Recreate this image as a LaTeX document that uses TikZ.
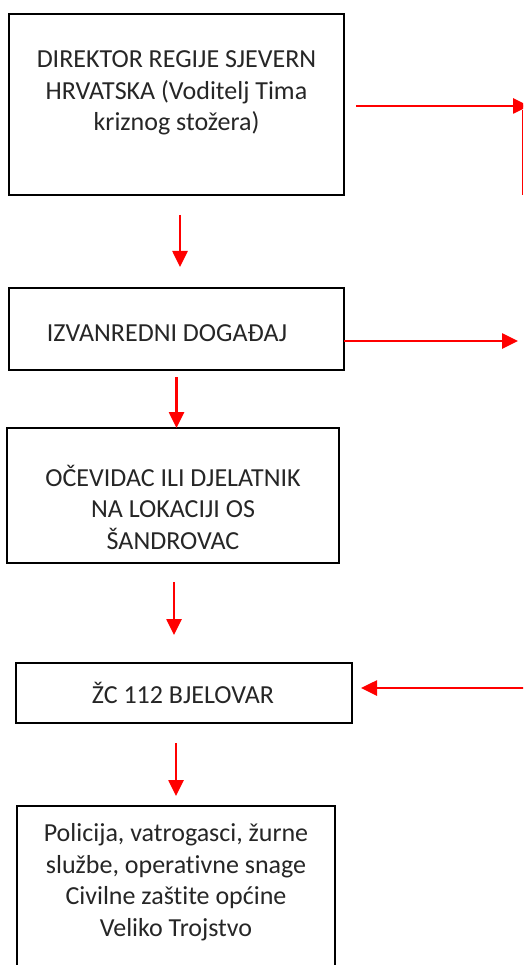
\documentclass[tikz,border=0pt]{standalone}
\usepackage{fontspec}
\setmainfont{Carlito}[Ligatures=NoCommon]
\usetikzlibrary{arrows.meta}
\begin{document}
\begin{tikzpicture}[x=1pt,y=-1pt,
  box/.style={draw=black, line width=1.6pt, outer sep=0pt, inner sep=0pt, fill=none},
  txt/.style={align=center, text=black!85, inner sep=0pt, font={\fontsize{26}{31.5}\selectfont}},
  arr/.style={draw=red, line width=2.6pt, -{Triangle[width=15pt,length=16pt]}},
  thin/.style={draw=red, line width=1pt}]
\useasboundingbox (0,0) rectangle (523,965);
\clip (0,0) rectangle (523,965);
\fill[white] (0,0) rectangle (523,965);
% boxes
\node[box, minimum width=335pt, minimum height=181pt] (b1) at (176.5,104.5) {};
\node[box, minimum width=335pt, minimum height=82pt] (b2) at (176.5,329) {};
\node[box, minimum width=332pt, minimum height=135pt] (b3) at (173,495.5) {};
\node[box, minimum width=336pt, minimum height=60pt] (b4) at (184,693) {};
\node[box, minimum width=318pt, minimum height=174pt] (b5) at (176,893) {};
% texts
\node[txt] (t1) at (176.5,93) {DIREKTOR REGIJE SJEVERN\\HRVATSKA (Voditelj Tima\\kriznog stožera)};
\node[txt] (t2) at (167,333) {IZVANREDNI DOGAĐAJ};
\node[txt] (t3) at (173,507) {OČEVIDAC ILI DJELATNIK\\NA LOKACIJI OS\\ŠANDROVAC};
\node[txt] (t4) at (183,693) {ŽC 112 BJELOVAR};
\node[txt] (t5) at (176,882) {Policija, vatrogasci, žurne\\službe, operativne snage\\Civilne zaštite općine\\Veliko Trojstvo};
% vertical connectors
\draw[arr, shorten <=20pt, shorten >=21pt] ([xshift=3.5pt]b1.south) -- ([xshift=3.5pt]b2.north);
\draw[arr, shorten <=7pt] (b2.south) -- (b2.south |- b3.north);
\draw[arr, shorten <=19pt, shorten >=28pt] ([xshift=1pt]b3.south) -- ([xshift=1pt]b3.south |- b4.north);
\draw[arr, shorten <=20pt, shorten >=10pt] ([xshift=-8pt]b4.south) -- ([xshift=-8pt]b4.south |- b5.north);
% side connectors
\coordinate (r1) at (529,106);
\coordinate (v1) at (522.5,110);
\coordinate (v2) at (522.5,195);
\coordinate (r2) at (518,341);
\coordinate (r3) at (530,688);
\draw[arr, shorten <=12pt] (b1.east |- r1) -- (r1);
\draw[thin] (v1) -- (v2);
\draw[arr] (b2.east |- r2) -- (r2);
\draw[arr, shorten >=9pt] (r3) -- (b4.east |- r3);
\end{tikzpicture}
\end{document}
